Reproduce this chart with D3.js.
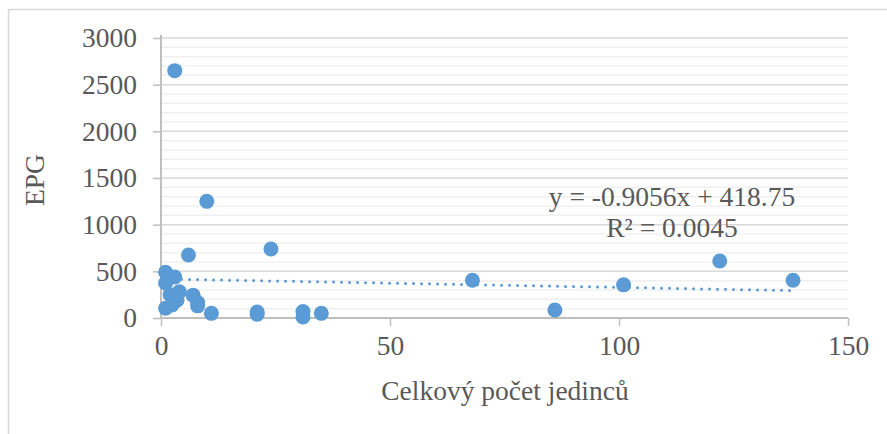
<!DOCTYPE html>
<html>
<head>
<meta charset="utf-8">
<script src="https://cdn.jsdelivr.net/npm/d3@7"></script>
<style>
  body { margin: 0; background: #fff; }
  svg text { font-family: "Liberation Serif", "Times New Roman", serif !important; fill: #595959; }
</style>
</head>
<body>
<script>
// Data
const xValues = [3, 10, 6, 24, 68, 86, 101, 122, 138, 1, 3, 1, 2, 4, 7, 8, 8, 1, 2.4, 3.5, 11, 21, 21, 31, 31, 35];
const yValues = [2650, 1250, 675, 740, 405, 85, 355, 610, 405, 490, 440, 375, 250, 280, 245, 165, 130, 105, 140, 190, 50, 65, 40, 70, 10, 50];
const xTicks = [0, 50, 100, 150];
const yTicks = [0, 500, 1000, 1500, 2000, 2500, 3000];
const trendSlope = -0.9056;
const trendIntercept = 418.75;
const equationLines = ["y = -0.9056x + 418.75", "R\u00b2 = 0.0045"];

// Layout
const WIDTH = 887, HEIGHT = 434;
const PLOT_LEFT = 161, PLOT_RIGHT = 848, PLOT_TOP = 38, PLOT_BOTTOM = 318;
const DOT_COLOR = "#5b9bd5";
const FONT_SIZE = 27.5;

var svg = d3.select("body").append("svg")
  .attr("width", WIDTH)
  .attr("height", HEIGHT);

// Chart frame (only top and left edges show in the picture)
svg.append("path")
  .attr("d", "M8.5," + HEIGHT + " L8.5,9.5 L" + WIDTH + ",9.5")
  .attr("fill", "none")
  .attr("stroke", "#d9d9d9")
  .attr("stroke-width", 1.5);

var x = d3.scaleLinear().domain([0, 150]).range([PLOT_LEFT, PLOT_RIGHT]);
var y = d3.scaleLinear().domain([0, 3000]).range([PLOT_BOTTOM, PLOT_TOP]);

// Minor gridlines every 100
var minor = d3.range(100, 3001, 100).filter(v => v % 500 !== 0);
svg.append("g").selectAll("line").data(minor).join("line")
  .attr("x1", PLOT_LEFT).attr("x2", PLOT_RIGHT)
  .attr("y1", d => y(d)).attr("y2", d => y(d))
  .attr("stroke", "#f0f0f0").attr("stroke-width", 1.5);

// Major gridlines
svg.append("g").selectAll("line").data(yTicks.filter(v => v > 0)).join("line")
  .attr("x1", PLOT_LEFT).attr("x2", PLOT_RIGHT)
  .attr("y1", d => y(d)).attr("y2", d => y(d))
  .attr("stroke", "#d9d9d9").attr("stroke-width", 1.5);

// Axes
var yAxis = svg.append("g")
  .attr("transform", "translate(" + PLOT_LEFT + ",0)")
  .call(d3.axisLeft(y).tickValues(yTicks).tickSize(8).tickPadding(16).tickFormat(d3.format("d")));
var xAxis = svg.append("g")
  .attr("transform", "translate(0," + PLOT_BOTTOM + ")")
  .call(d3.axisBottom(x).tickValues(xTicks).tickSize(8).tickPadding(9).tickFormat(d3.format("d")));

[yAxis, xAxis].forEach(function(a) {
  a.attr("font-family", null).attr("font-size", FONT_SIZE);
  a.select(".domain").attr("stroke", "#bfbfbf").attr("stroke-width", 2);
  a.selectAll(".tick line").attr("stroke", "#bfbfbf").attr("stroke-width", 1.5);
  a.selectAll(".tick text").attr("fill", "#595959");
});
yAxis.select(".domain").attr("d", "M0," + PLOT_BOTTOM + "V" + (PLOT_TOP - 3));
xAxis.select(".domain").attr("d", "M" + PLOT_LEFT + ",0H" + PLOT_RIGHT);

// Axis titles
svg.append("text")
  .attr("x", 505)
  .attr("y", 400)
  .attr("text-anchor", "middle")
  .attr("font-size", FONT_SIZE)
  .text("Celkový počet jedinců");

svg.append("text")
  .attr("transform", "translate(44," + 180 + ") rotate(-90)")
  .attr("text-anchor", "middle")
  .attr("font-size", FONT_SIZE)
  .text("EPG");

// Points
var points = xValues.map((v, i) => ({ x: v, y: yValues[i] }));
svg.append("g").selectAll("circle").data(points).join("circle")
  .attr("cx", d => x(d.x))
  .attr("cy", d => y(d.y))
  .attr("r", 7.5)
  .attr("fill", DOT_COLOR);

// Linear trendline (dotted)
var xMin = d3.min(xValues), xMax = d3.max(xValues);
svg.append("line")
  .attr("x1", x(xMin)).attr("y1", y(trendSlope * xMin + trendIntercept))
  .attr("x2", x(xMax)).attr("y2", y(trendSlope * xMax + trendIntercept))
  .attr("stroke", DOT_COLOR)
  .attr("stroke-width", 3)
  .attr("stroke-linecap", "round")
  .attr("stroke-dasharray", "0,8");

// Trendline equation
svg.append("g").selectAll("text").data(equationLines).join("text")
  .attr("x", (d, i) => i === 0 ? 672 : 672)
  .attr("y", (d, i) => 206 + i * 31)
  .attr("text-anchor", "middle")
  .attr("font-size", FONT_SIZE)
  .text(d => d);
</script>
</body>
</html>
